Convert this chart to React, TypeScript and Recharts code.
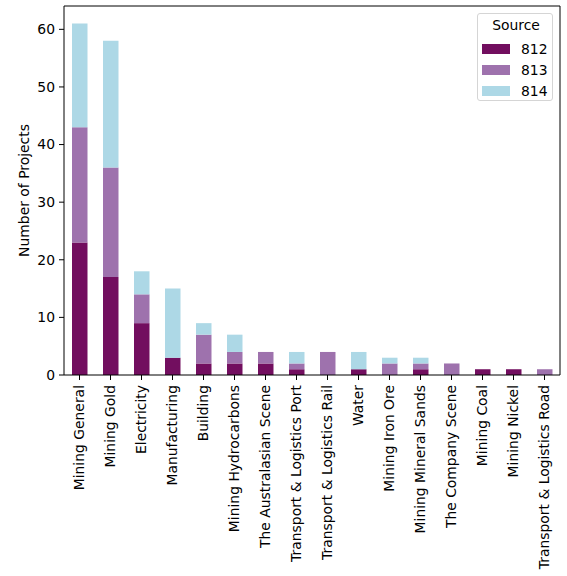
import React from "react";
import { BarChart, Bar, XAxis, YAxis, Legend, ReferenceLine } from "recharts";

const industries = [
  "Mining General",
  "Mining Gold",
  "Electricity",
  "Manufacturing",
  "Building",
  "Mining Hydrocarbons",
  "The Australasian Scene",
  "Transport & Logistics Port",
  "Transport & Logistics Rail",
  "Water",
  "Mining Iron Ore",
  "Mining Mineral Sands",
  "The Company Scene",
  "Mining Coal",
  "Mining Nickel",
  "Transport & Logistics Road",
];

const source812 = [23, 17, 9, 3, 2, 2, 2, 1, 0, 1, 0, 1, 0, 1, 1, 0];
const source813 = [20, 19, 5, 0, 5, 2, 2, 1, 4, 0, 2, 1, 2, 0, 0, 1];
const source814 = [18, 22, 4, 12, 2, 3, 0, 2, 0, 3, 1, 1, 0, 0, 0, 0];

const yTicks = [0, 10, 20, 30, 40, 50, 60];
const yMax = 64.05;

const sources = [
  { key: "s812", name: "812", color: "#720e5f" },
  { key: "s813", name: "813", color: "#9e72ad" },
  { key: "s814", name: "814", color: "#add8e6" },
];

const FONT = "'DejaVu Sans', sans-serif";

const data = industries.map((name, i) => ({
  name,
  s812: source812[i],
  s813: source813[i],
  s814: source814[i],
}));

function RotatedTick(props: any) {
  const { x, y, payload } = props;
  return (
    <text
      x={x}
      y={y}
      transform={`rotate(-90, ${x}, ${y})`}
      textAnchor="end"
      dy="0.35em"
      fontSize={13.9}
      fontFamily={FONT}
      fill="#000"
    >
      {payload.value}
    </text>
  );
}

function SourceLegend() {
  return (
    <div
      style={{
        width: 76,
        height: 88,
        border: "1px solid #d5d5d5",
        borderRadius: 3,
        background: "rgba(255,255,255,0.8)",
        fontFamily: FONT,
        fontSize: 13.9,
        color: "#000",
        boxSizing: "border-box",
        position: "relative",
      }}
    >
      <div style={{ position: "absolute", top: 3, left: 0, width: 76, textAlign: "center" }}>
        Source
      </div>
      {sources.map((s, i) => (
        <div key={s.key} style={{ position: "absolute", top: 27 + i * 21, left: 4, display: "flex", alignItems: "center" }}>
          <div style={{ width: 28, height: 10, background: s.color }} />
          <span style={{ marginLeft: 11 }}>{s.name}</span>
        </div>
      ))}
    </div>
  );
}

export default function App() {
  return (
    <div style={{ position: "absolute", left: 0, top: 0, background: "#fff" }}>
      <BarChart
        width={567}
        height={576}
        data={data}
        margin={{ top: 6, right: 7, left: 0, bottom: 0 }}
      >
        <XAxis
          dataKey="name"
          interval={0}
          height={201}
          tick={<RotatedTick />}
          tickSize={5}
          tickMargin={5}
          stroke="#000"
          tickLine={{ stroke: "#000" }}
        />
        <YAxis
          domain={[0, yMax]}
          ticks={yTicks}
          width={64}
          tickSize={5}
          tickMargin={4}
          stroke="#000"
          tick={{ fill: "#000", fontSize: 13.9, fontFamily: FONT }}
          label={{
            value: "Number of Projects",
            angle: -90,
            position: "insideLeft",
            offset: 24,
            style: { textAnchor: "middle", fill: "#000", fontSize: 13.9, fontFamily: FONT },
          }}
        />
        <Legend
          layout="horizontal"
          verticalAlign="middle"
          content={<SourceLegend />}
          wrapperStyle={{ position: "absolute", top: 13, left: 477, width: 76 }}
        />
        {sources.map((s) => (
          <Bar
            key={s.key}
            dataKey={s.key}
            name={s.name}
            stackId="a"
            fill={s.color}
            barSize={15.5}
            isAnimationActive={false}
          />
        ))}
        <ReferenceLine y={yMax} stroke="#000" ifOverflow="visible" />
        <ReferenceLine
          x={industries[industries.length - 1]}
          position="end"
          stroke="#000"
          ifOverflow="visible"
        />
      </BarChart>
    </div>
  );
}
